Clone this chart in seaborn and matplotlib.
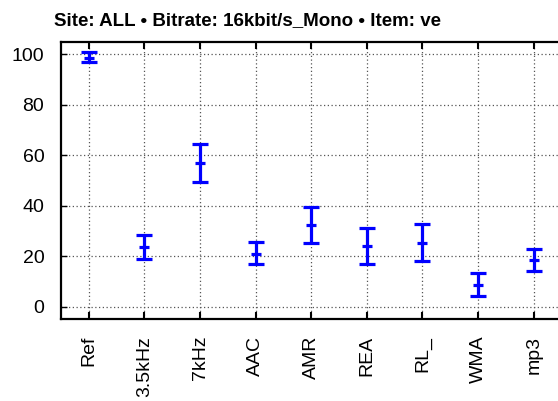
import matplotlib
matplotlib.use("Agg")
import matplotlib.pyplot as plt
import seaborn as sns
import pandas as pd
import numpy as np

categories = ["Ref", "3.5kHz", "7kHz", "AAC", "AMR", "REA", "RL_", "WMA", "mp3"]
means = [98.3, 23.5, 56.7, 20.9, 32.2, 24.0, 25.3, 8.7, 18.4]
upper = [100.8, 28.2, 64.3, 25.5, 39.5, 31.1, 32.7, 13.2, 22.8]
lower = [96.7, 18.8, 49.5, 16.8, 25.2, 17.0, 18.0, 4.4, 14.0]
yticks = [0, 20, 40, 60, 80, 100]
title = "Site: ALL \u2022 Bitrate: 16kbit/s_Mono \u2022 Item: ve"

sns.set_style("white")
plt.rcParams["font.family"] = ["Liberation Sans", "DejaVu Sans"]
plt.rcParams["text.color"] = "black"
plt.rcParams["xtick.color"] = "black"
plt.rcParams["ytick.color"] = "black"
plt.rcParams["xtick.labelcolor"] = "black"
plt.rcParams["ytick.labelcolor"] = "black"

df = pd.DataFrame({"codec": categories, "mean": means, "lo": lower, "hi": upper})

W, H = 558, 401
fig = plt.figure(figsize=(W / 100, H / 100), dpi=100)
ax = fig.add_axes([61 / W, 1 - 319 / H, (561.5 - 61) / W, (319 - 41.7) / H])

blue = "#0000ff"
x = np.arange(len(categories))
yerr = np.vstack([df["mean"] - df["lo"], df["hi"] - df["mean"]])
ax.errorbar(x, df["mean"], yerr=yerr, fmt="none", ecolor=blue, elinewidth=2.3,
            capsize=5.8, capthick=2.3, zorder=3)
sns.scatterplot(data=df, x="codec", y="mean", marker="_", s=60, color=blue,
                linewidth=2.3, ax=ax, zorder=4, legend=False)

ax.set_xlim(-0.5, len(categories) - 0.5)
ax.set_ylim(-4.9, 104.9)
ax.set_yticks(yticks)
ax.set_xticks(x)
ax.set_xticklabels(categories, rotation=90, fontsize=14)
ax.tick_params(axis="y", labelsize=14, direction="in", length=4, width=1, pad=12, left=True)
ax.tick_params(axis="x", direction="in", length=5, width=1.5, pad=12, bottom=True, top=True)
ax.set_xlabel("")
ax.set_ylabel("")
ax.grid(True, linestyle=(0, (1, 2)), color="#555555", linewidth=0.9)
for s in ax.spines.values():
    s.set_linewidth(1.6)
    s.set_color("black")

fig.text(54 / W, 1 - 25 / H, title, ha="left", va="baseline", fontsize=13.5,
         fontweight="bold", color="black",
         family=["Liberation Sans Narrow", "Liberation Sans", "DejaVu Sans"])

fig.savefig("out.png", dpi=100)
